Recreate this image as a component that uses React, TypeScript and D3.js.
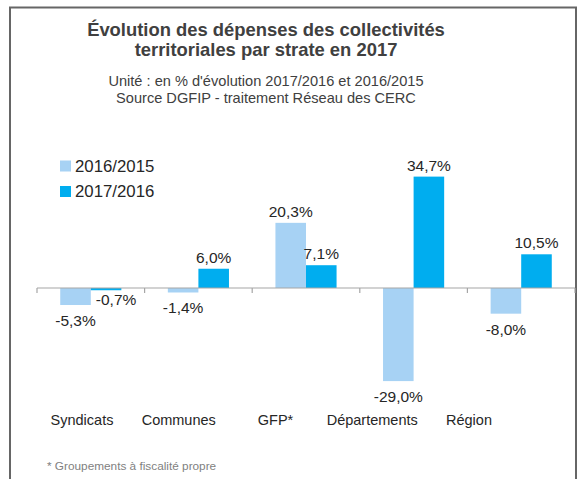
import * as d3 from "d3";

// données
const categories = ["Syndicats", "Communes", "GFP*", "Départements", "Région"];
const seriesNames = ["2016/2015", "2017/2016"];
const values2016 = [-5.3, -1.4, 20.3, -29.0, -8.0];
const values2017 = [-0.7, 6.0, 7.1, 34.7, 10.5];
const seriesColors = ["#a7d2f4", "#00adef"];

const titleLines = [
  "Évolution des dépenses des collectivités",
  "territoriales par strate en 2017",
];
const subtitleLines = [
  "Unité : en % d'évolution 2017/2016 et 2016/2015",
  "Source DGFIP - traitement Réseau des CERC",
];
const footnote = "* Groupements à fiscalité propre";

const W = 581;
const H = 479;
const FONT = "'Liberation Sans', Arial, sans-serif";

const fmt = (v: number) => v.toFixed(1).replace(".", ",") + "%";

export default function App() {
  const x = d3.scaleBand<string>().domain(categories).range([37, 575]).padding(0);
  const xInner = d3
    .scaleBand<string>()
    .domain(seriesNames)
    .range([0, x.bandwidth()])
    .paddingInner(0)
    .paddingOuter(0.76);
  const y = d3.scaleLinear().domain([-30, 40]).range([384.3, 159.6]);
  // les libellés de catégories ne sont pas alignés sur les barres dans l'original
  const xLabel = d3.scalePoint<string>().domain(categories).range([82, 469]);

  const series = [values2016, values2017];
  const y0 = y(0);

  return (
    <svg
      width={W}
      height={H}
      style={{ position: "absolute", left: 0, top: 0, background: "#fff" }}
      fontFamily={FONT}
    >
      <rect x={10} y={7.5} width={566} height={H + 20} fill="#fff" stroke="#666" strokeWidth={2} />

      {titleLines.map((t, i) => (
        <text
          key={t}
          x={266}
          y={36 + i * 20}
          textAnchor="middle"
          fontSize={18.4}
          fontWeight="bold"
          fill="#404040"
        >
          {t}
        </text>
      ))}
      {subtitleLines.map((t, i) => (
        <text key={t} x={266} y={85.5 + i * 17} textAnchor="middle" fontSize={14.6} fill="#404040">
          {t}
        </text>
      ))}

      {/* légende */}
      {seriesNames.map((s, i) => (
        <g key={s} transform={`translate(60,${166 + i * 25.5})`}>
          <rect x={0} y={-5.5} width={11} height={11} fill={seriesColors[i]} />
          <text x={15} y={5.8} fontSize={16.8} fill="#262626">
            {s}
          </text>
        </g>
      ))}

      {/* barres */}
      {series.map((vals, si) =>
        vals.map((v, ci) => {
          const bx = (x(categories[ci]) ?? 0) + (xInner(seriesNames[si]) ?? 0);
          const bw = xInner.bandwidth();
          const top = Math.min(y(v), y0);
          const h = Math.abs(y(v) - y0);
          // barre quasi nulle : étiquette décalée à droite pour ne pas chevaucher la voisine
          const tiny = h < 4;
          const ly = v >= 0 ? y(v) - 6 : tiny ? y(v) + 15 : y(v) + 21;
          const lx = bx + bw / 2 + (tiny ? 10 : 0);
          return (
            <g key={`${si}-${ci}`}>
              <rect x={bx} y={top} width={bw} height={h} fill={seriesColors[si]} />
              <text x={lx} y={ly} textAnchor="middle" fontSize={15.5} fill="#262626">
                {fmt(v)}
              </text>
            </g>
          );
        })
      )}

      {/* axe horizontal */}
      <line x1={37} x2={575} y1={y0} y2={y0} stroke="#a6a6a6" strokeWidth={1.2} />
      {[...categories.map((c) => x(c) ?? 0), 575].map((t, i) => (
        <line key={i} x1={t} x2={t} y1={y0} y2={y0 + 5} stroke="#a6a6a6" strokeWidth={1.2} />
      ))}

      {categories.map((c) => (
        <text key={c} x={xLabel(c)} y={425} textAnchor="middle" fontSize={14.5} fill="#262626">
          {c}
        </text>
      ))}

      <text x={47} y={470} fontSize={11.8} fill="#7f7f7f">
        {footnote}
      </text>
    </svg>
  );
}
